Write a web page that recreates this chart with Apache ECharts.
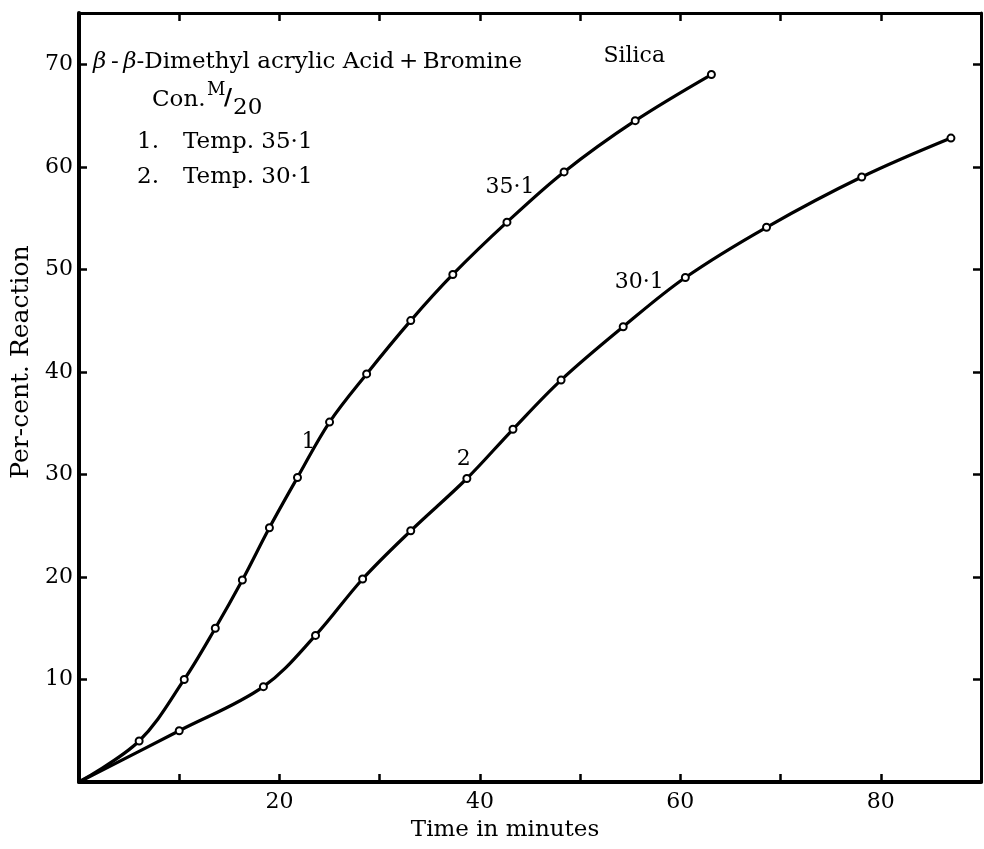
<!DOCTYPE html>
<html>
<head>
<meta charset="utf-8">
<script src="https://cdn.jsdelivr.net/npm/echarts@6/dist/echarts.min.js"></script>
<style>
  html, body { margin: 0; padding: 0; background: #fff; }
  #chart { width: 984px; height: 849px; }
</style>
</head>
<body>
<div id="chart"></div>
<script>
// curve 1 : temp 35.1
const time1 = [6, 10.5, 13.6, 16.3, 19, 21.8, 25, 28.7, 33.1, 37.3, 42.7, 48.4, 55.5, 63.1];
const pct1 = [4, 10, 15, 19.7, 24.8, 29.7, 35.1, 39.8, 45, 49.5, 54.6, 59.5, 64.5, 69];
// curve 2 : temp 30.1
const time2 = [10, 18.4, 23.6, 28.3, 33.1, 38.7, 43.3, 48.1, 54.3, 60.5, 68.6, 78.1, 87];
const pct2 = [5, 9.3, 14.3, 19.8, 24.5, 29.6, 34.4, 39.2, 44.4, 49.2, 54.1, 59, 62.8];
// labels written on the plot
const noteText = ['1', '2', '35·1', '30·1', 'Silica'];
const noteX = [22.9, 38.4, 43, 55.9, 55.4];
const noteY = [33.1, 31.5, 58, 48.7, 70.8];

const serif = 'DejaVu Serif';

function curve(xs, ys) {
  // both curves start at the origin
  const d = [{ value: [0, 0], symbol: 'none' }];
  xs.forEach((x, i) => d.push([x, ys[i]]));
  return d;
}

function txt(x, y, text, size, extra) {
  return {
    type: 'text', x: x, y: y,
    style: Object.assign({
      text: text, fill: '#000', font: size + 'px "DejaVu Serif"',
      align: 'left', verticalAlign: 'middle'
    }, extra || {})
  };
}

const chart = echarts.init(document.getElementById('chart'));

const lineStyle = { color: '#000', width: 3.2 };
const tickStyle = { show: true, inside: true, length: 8, lineStyle: { color: '#000', width: 2.5 } };

chart.setOption({
  animation: false,
  backgroundColor: '#fff',
  grid: { left: 79, right: 2, top: 13, bottom: 67 },
  xAxis: [{
    type: 'value', min: 0, max: 90, interval: 10,
    axisLine: { show: true, onZero: false, lineStyle: { color: '#000', width: 4 } },
    axisTick: tickStyle,
    splitLine: { show: false },
    axisLabel: {
      color: '#000', fontFamily: serif, fontSize: 22, margin: 9,
      formatter: v => (v > 0 && v % 20 === 0) ? String(v) : ''
    }
  }, {
    type: 'value', min: 0, max: 90, interval: 10, position: 'top',
    axisLine: { show: true, onZero: false, lineStyle: { color: '#000', width: 3 } },
    axisTick: tickStyle, axisLabel: { show: false }, splitLine: { show: false }
  }],
  yAxis: [{
    type: 'value', min: 0, max: 75, interval: 10,
    axisLine: { show: true, onZero: false, lineStyle: { color: '#000', width: 4 } },
    axisTick: tickStyle,
    splitLine: { show: false },
    axisLabel: {
      color: '#000', fontFamily: serif, fontSize: 22, margin: 6,
      formatter: v => (v > 0 && v % 10 === 0) ? String(v) : ''
    }
  }, {
    type: 'value', min: 0, max: 75, interval: 10, position: 'right',
    axisLine: { show: true, onZero: false, lineStyle: { color: '#000', width: 3 } },
    axisTick: tickStyle, axisLabel: { show: false }, splitLine: { show: false }
  }],
  series: [{
    name: 'Temp. 35·1', type: 'line', smooth: 0.35,
    data: curve(time1, pct1),
    symbol: 'emptyCircle', symbolSize: 7,
    itemStyle: { color: '#000', borderColor: '#000', borderWidth: 1.6 },
    lineStyle: lineStyle
  }, {
    name: 'Temp. 30·1', type: 'line', smooth: 0.35,
    data: curve(time2, pct2),
    symbol: 'emptyCircle', symbolSize: 7,
    itemStyle: { color: '#000', borderColor: '#000', borderWidth: 1.6 },
    lineStyle: lineStyle
  }, {
    name: 'notes', type: 'scatter', symbolSize: 0,
    itemStyle: { opacity: 1 },
    data: noteText.map((t, i) => ({ name: t, value: [noteX[i], noteY[i]] })),
    label: {
      show: true, position: 'inside', formatter: p => p.name, opacity: 1,
      color: '#000', fontFamily: serif, fontSize: 22
    }
  }],
  graphic: [
    txt(93, 62, '{it|β}\u2009-\u2009{it|β}-Dimethyl acrylic Acid\u2009+\u2009Bromine', 23, {
      rich: { it: { fontStyle: 'italic', fontFamily: serif, fontSize: 23 } }
    }),
    txt(152, 100, 'Con.', 23),
    txt(207, 90, 'M', 18),
    txt(224, 98, '/', 22, { font: 'bold 22px "DejaVu Serif"' }),
    txt(233, 108, '20', 23),
    txt(137, 142, '1.', 23),
    txt(183, 142, 'Temp. 35·1', 23),
    txt(137, 177, '2.', 23),
    txt(183, 177, 'Temp. 30·1', 23),
    txt(505, 830, 'Time in minutes', 23, { align: 'center' }),
    Object.assign(txt(21, 362, 'Per-cent. Reaction', 25, { align: 'center' }), { rotation: Math.PI / 2 })
  ]
});
</script>
</body>
</html>
